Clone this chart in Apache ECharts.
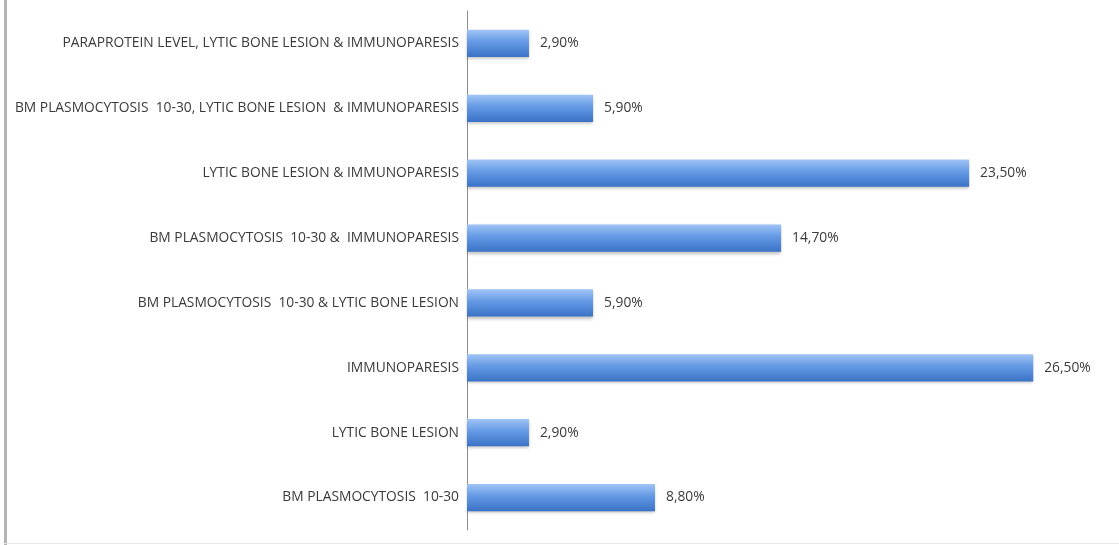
<!DOCTYPE html>
<html>
<head>
<meta charset="utf-8">
<script src="https://cdn.jsdelivr.net/npm/echarts@6/dist/echarts.min.js"></script>
<style>
  html, body { margin: 0; padding: 0; background: #fff; }
  #chart { width: 1119px; height: 545px; }
</style>
</head>
<body>
<div id="chart"></div>
<script>
// Criteria combinations, listed bottom to top
const categories = [
  'BM PLASMOCYTOSIS  10-30',
  'LYTIC BONE LESION',
  'IMMUNOPARESIS',
  'BM PLASMOCYTOSIS  10-30 & LYTIC BONE LESION',
  'BM PLASMOCYTOSIS  10-30 &  IMMUNOPARESIS',
  'LYTIC BONE LESION & IMMUNOPARESIS',
  'BM PLASMOCYTOSIS  10-30, LYTIC BONE LESION  & IMMUNOPARESIS',
  'PARAPROTEIN LEVEL, LYTIC BONE LESION & IMMUNOPARESIS'
];
// Share of patients, percent
const values = [8.8, 2.9, 26.5, 5.9, 14.7, 23.5, 5.9, 2.9];

const fmt = v => v.toFixed(2).replace('.', ',') + '%';
const font = '"Open Sans", Lato, sans-serif';

const chart = echarts.init(document.getElementById('chart'));
chart.setOption({
  animation: false,
  backgroundColor: '#ffffff',
  grid: { left: 467, top: 11, bottom: 15, width: 641, containLabel: false },
  xAxis: {
    type: 'value', min: 0, max: 30,
    show: false
  },
  yAxis: {
    type: 'category',
    data: categories,
    axisLine: { show: true, lineStyle: { color: '#8c8c8c', width: 1 } },
    axisTick: { show: false },
    axisLabel: { color: '#3a3a3a', fontSize: 13.8, fontFamily: font, margin: 8 }
  },
  series: [{
    type: 'bar',
    data: values,
    barCategoryGap: '58%',
    itemStyle: {
      color: new echarts.graphic.LinearGradient(0, 0, 0, 1, [
        { offset: 0, color: '#a0c4f6' },
        { offset: 0.45, color: '#6499e4' },
        { offset: 1, color: '#3a72c6' }
      ]),
      shadowColor: 'rgba(0,0,0,0.25)',
      shadowBlur: 3,
      shadowOffsetY: 2
    },
    label: {
      show: true,
      position: 'right',
      distance: 11,
      color: '#3a3a3a',
      fontSize: 13.8,
      fontFamily: font,
      formatter: p => fmt(p.value)
    }
  }],
  graphic: [
    { type: 'rect', shape: { x: 4, y: 0, width: 3, height: 545 }, style: { fill: '#b4b4b4' } },
    { type: 'rect', shape: { x: 4, y: 543, width: 1115, height: 1 }, style: { fill: '#e6e6e6' } }
  ]
});
</script>
</body>
</html>
